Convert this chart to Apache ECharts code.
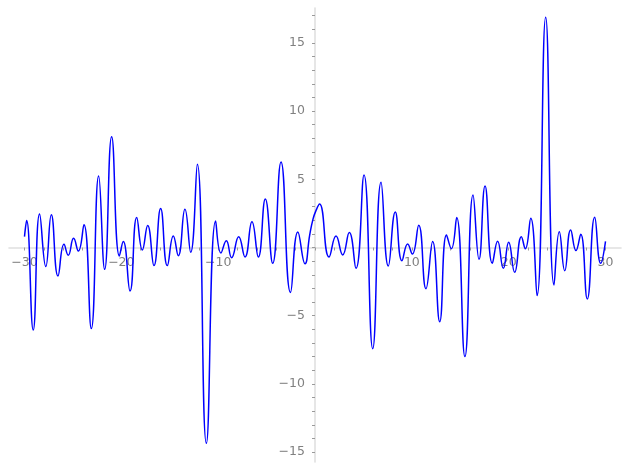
<!DOCTYPE html>
<html>
<head>
<meta charset="utf-8">
<script src="https://cdn.jsdelivr.net/npm/echarts@6/dist/echarts.min.js"></script>
<style>
html,body{margin:0;padding:0;background:#fff;}
#chart{width:627px;height:469px;}
</style>
</head>
<body>
<div id="chart"></div>
<script>
// Curve samples (x, y)
const xs = [-30.0, -29.78, -29.1, -28.44, -27.8, -27.23, -26.54, -25.92, -25.48, -24.93,
  -24.44, -23.86, -23.1, -22.34, -21.72, -21.0, -20.2, -19.8, -19.1, -18.41,
  -17.83, -17.28, -16.63, -15.94, -15.25, -14.63, -14.12, -13.43, -12.84, -12.15,
  -11.22, -10.26, -9.71, -9.16, -8.61, -7.88, -7.23, -6.51, -5.85, -5.13,
  -4.37, -3.51, -2.53, -1.77, -1.03, -0.55, -0.2, 0.1, 0.47, 1.45,
  2.17, 2.86, 3.54, 4.23, 5.06, 5.96, 6.82, 7.57, 8.29, 8.98,
  9.57, 10.05, 10.71, 11.46, 12.15, 12.88, 13.58, 14.08, 14.63, 15.48,
  16.32, 16.94, 17.56, 18.31, 18.86, 19.45, 20.0, 20.62, 21.31, 21.72,
  22.28, 22.93, 23.82, 24.68, 25.23, 25.79, 26.4, 26.95, 27.44, 28.12,
  28.88, 29.5, 30.0];
const ys = [0.8, 1.97, -6.05, 2.45, -1.4, 2.4, -2.09, 0.23, -0.57, 0.67,
  -0.26, 1.67, -5.95, 5.24, -1.6, 8.12, -0.62, 0.43, -3.19, 2.19,
  -0.18, 1.62, -1.33, 2.85, -1.33, 0.84, -0.6, 2.8, -0.35, 6.1,
  -14.36, 1.94, -0.4, 0.5, -0.75, 0.79, -0.7, 1.89, -0.7, 3.56,
  -1.16, 6.27, -3.3, 1.14, -1.2, 0.9, 2.1, 2.7, 3.18, -0.7,
  0.84, -0.55, 1.09, -1.53, 5.32, -7.42, 4.78, -1.36, 2.6, -0.97,
  0.26, -0.48, 1.63, -3.02, 0.43, -5.44, 0.92, -0.09, 2.19, -8.0,
  3.85, -0.87, 4.51, -1.16, 0.45, -1.53, 0.38, -1.82, 0.79, -0.09,
  2.14, -3.53, 16.88, -2.75, 1.16, -1.7, 1.28, -0.23, 0.97, -3.78,
  2.21, -1.16, 0.45];

// Tick labels and tick positions
const xTickLabels = [-30, -20, -10, 10, 20, 30];
const yTickLabels = [-15, -10, -5, 5, 10, 15];
const xTicks = [-30, -28, -26, -24, -22, -20, -18, -16, -14, -12, -10, -8, -6, -4, -2, 0,
  2, 4, 6, 8, 10, 12, 14, 16, 18, 20, 22, 24, 26, 28, 30];
const yTicks = [-15, -14, -13, -12, -11, -10, -9, -8, -7, -6, -5, -4, -3, -2, -1, 0,
  1, 2, 3, 4, 5, 6, 7, 8, 9, 10, 11, 12, 13, 14, 15, 16, 17];

const fmt = v => (v < 0 ? '\u2212' + Math.abs(v) : String(v));

const chart = echarts.init(document.getElementById('chart'), null, {renderer: 'canvas'});
chart.setOption({
  animation: false,
  backgroundColor: '#ffffff',
  grid: {left: 9, top: 8, width: 612, height: 454, containLabel: false, outerBoundsMode: 'none'},
  xAxis: {
    type: 'value', min: -31.6, max: 31.6, position: 'bottom', offset: -214.5,
    axisLine: {show: true, onZero: false, lineStyle: {color: '#e0e0e0', width: 1.6}},
    axisTick: {show: true, customValues: xTicks, length: 3, lineStyle: {color: '#9a9a9a', width: 1}},
    axisLabel: {customValues: xTickLabels, formatter: fmt, color: '#808080', fontSize: 12.5,
      fontFamily: 'DejaVu Sans', margin: 9, hideOverlap: false},
    splitLine: {show: false}
  },
  yAxis: {
    type: 'value', min: -15.73, max: 17.56, position: 'left', offset: -306,
    axisLine: {show: true, onZero: false, lineStyle: {color: '#e0e0e0', width: 1.6}},
    axisTick: {show: true, customValues: yTicks, length: 3, lineStyle: {color: '#9a9a9a', width: 1}},
    axisLabel: {customValues: yTickLabels, formatter: fmt, color: '#808080', fontSize: 12.5,
      fontFamily: 'DejaVu Sans', margin: 10, hideOverlap: false},
    splitLine: {show: false}
  },
  series: [{
    type: 'line',
    data: xs.map((x, i) => [x, ys[i]]),
    smooth: 0.5,
    showSymbol: false,
    lineStyle: {color: '#0000ff', width: 1.5},
    clip: false
  }]
});
</script>
</body>
</html>
